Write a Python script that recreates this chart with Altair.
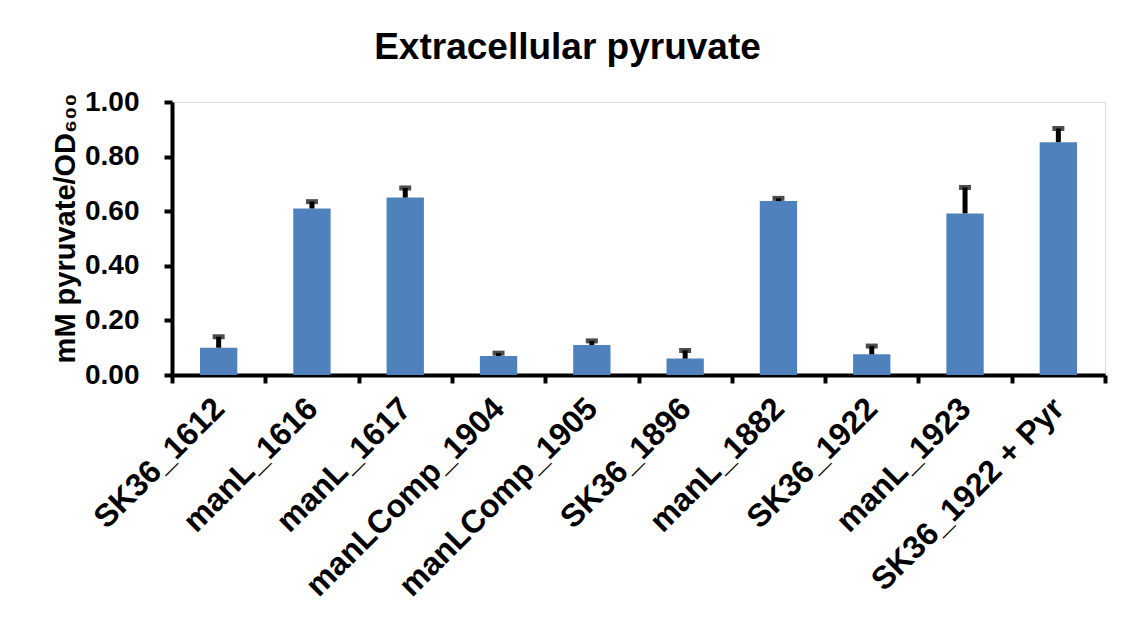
import altair as alt
import pandas as pd

strains = ["SK36_1612", "manL_1616", "manL_1617", "manLComp_1904", "manLComp_1905",
           "SK36_1896", "manL_1882", "SK36_1922", "manL_1923", "SK36_1922 + Pyr"]
means = [0.10, 0.61, 0.65, 0.07, 0.11, 0.06, 0.637, 0.076, 0.592, 0.853]
errors = [0.04, 0.025, 0.035, 0.01, 0.015, 0.03, 0.01, 0.03, 0.095, 0.05]

df = pd.DataFrame({"strain": strains, "mean": means, "err": errors})
df["top"] = df["mean"] + df["err"]

FONT = "Liberation Sans"

x = alt.X("strain:N", sort=strains, title=None,
          scale=alt.Scale(paddingInner=0, paddingOuter=0),
          axis=alt.Axis(labelAngle=-45, labelAlign="right", labelBaseline="middle",
                        labelFontSize=32, labelFontWeight="bold", labelFont=FONT,
                        labelColor="black", labelPadding=20, tickBand="extent",
                        labelLimit=500,
                        domainColor="black", domainWidth=4, tickColor="black",
                        tickWidth=4, tickSize=8, labelOverlap=False))

bars = alt.Chart(df).mark_bar(color="#4F81BD", width=alt.RelativeBandSize(0.4)).encode(
    x=x,
    y=alt.Y("mean:Q", title="mM pyruvate/OD₆₀₀",
            scale=alt.Scale(domain=[0, 1]),
            axis=alt.Axis(values=[0, 0.2, 0.4, 0.6, 0.8, 1.0], format=".2f",
                          labelFontSize=28, labelFontWeight="bold", labelFont=FONT,
                          labelColor="black", labelPadding=25,
                          titleFontSize=29, titleFontWeight="bold", titleFont=FONT,
                          titleColor="black", titlePadding=4, titleY=126,
                          domainColor="black", domainWidth=4, tickColor="black",
                          tickWidth=4, tickSize=8, grid=False)),
)

stems = alt.Chart(df).mark_rule(color="black", strokeWidth=5).encode(
    x=alt.X("strain:N", sort=strains), y="mean:Q", y2="top:Q")

caps = alt.Chart(df).mark_tick(color="black", size=12, thickness=5).encode(
    x=alt.X("strain:N", sort=strains), y="top:Q")

chart = alt.layer(bars, stems, caps).properties(
    width=933, height=273,
    title=alt.TitleParams("Extracellular pyruvate", fontSize=37, fontWeight="bold",
                          font=FONT, color="black", dx=-71, offset=21),
    autosize=alt.AutoSizeParams(type="none"),
    padding={"left": 172, "top": 102, "right": 19, "bottom": 247},
).configure_view(strokeWidth=0).configure(background="white")

chart.save("out.html", embed_options={"renderer": "svg", "actions": False})
